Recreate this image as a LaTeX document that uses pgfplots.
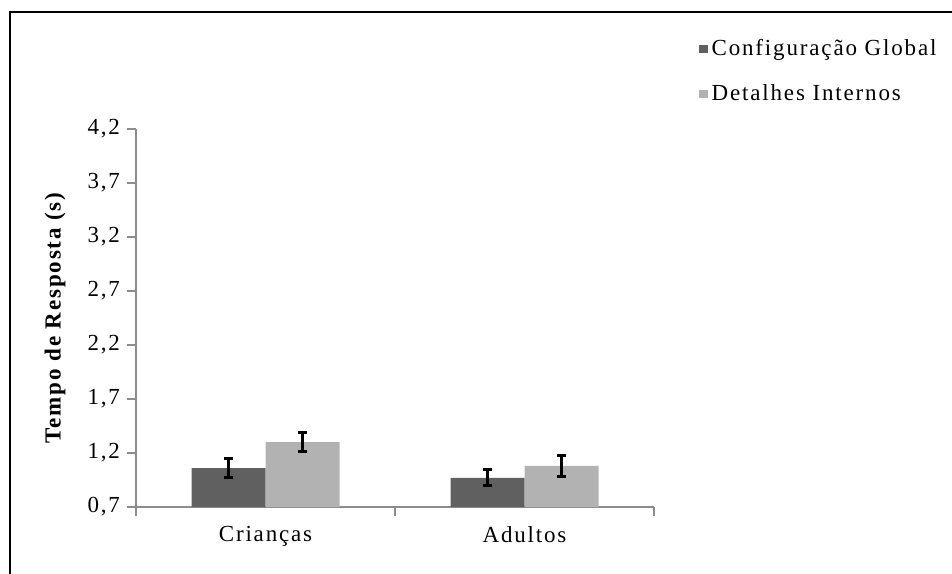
\documentclass[border=0pt]{standalone}
\usepackage{fontspec}
\setmainfont{Liberation Serif}[LetterSpace=8]
\usepackage{pgfplots}
\pgfplotsset{compat=1.18}
\definecolor{darkbar}{HTML}{606060}
\definecolor{lightbar}{HTML}{B2B2B2}
\definecolor{axgray}{HTML}{8C8C8C}
\begin{document}
\begin{tikzpicture}
\useasboundingbox (0,0) rectangle (476pt,-286.5pt);
\draw[line width=1.3pt] (5pt,-290pt) -- (5pt,-6pt) -- (480pt,-6pt);
\begin{axis}[
  at={(68pt,-253.5pt)}, anchor=south west,
  scale only axis, width=259pt, height=189pt,
  font=\fontsize{11.5}{13}\selectfont,
  axis lines*=left,
  axis line style={axgray, line width=0.8pt},
  every tick/.style={axgray, line width=0.8pt},
  tick align=outside,
  major tick length=4.5pt,
  xmin=-0.5, xmax=1.5,
  ymin=0.7, ymax=4.2,
  ytick={0.7,1.2,1.7,2.2,2.7,3.2,3.7,4.2},
  yticklabel style={/pgf/number format/.cd, fixed, fixed zerofill, precision=1, use comma, assume math mode=true},
  xtick={-0.5,0.5,1.5},
  xticklabel=\empty,
  extra x ticks={0,1},
  extra x tick labels={Crianças,Adultos},
  extra x tick style={major tick length=0pt, xticklabel style={yshift=-6pt}},
  ylabel={\bfseries Tempo de Resposta (s)},
  every axis y label/.style={at={(axis description cs:0,0.5)}, xshift=-40.5pt, rotate=90, anchor=center},
  ybar=0pt, bar width=37pt,
  legend style={at={(axis description cs:1.075,1.26)}, anchor=north west, draw=none, fill=none, row sep=9pt, font=\fontsize{11.5}{13}\selectfont, cells={anchor=west}},
  legend image code/.code={\fill[#1] (0pt,-2.1pt) rectangle (4.2pt,2.1pt);},
  error bars/error bar style={black, line width=1.5pt},
  error bars/error mark options={black, rotate=90, mark size=2.2pt, line width=1.5pt},
]
\addplot[fill=darkbar, draw=none, error bars/.cd, y dir=both, y explicit]
  coordinates {(0,1.06) +- (0,0.09) (1,0.97) +- (0,0.075)};
\addplot[fill=lightbar, draw=none, error bars/.cd, y dir=both, y explicit]
  coordinates {(0,1.30) +- (0,0.09) (1,1.08) +- (0,0.095)};
\legend{Configuração Global, Detalhes Internos}
\end{axis}
\end{tikzpicture}
\end{document}
